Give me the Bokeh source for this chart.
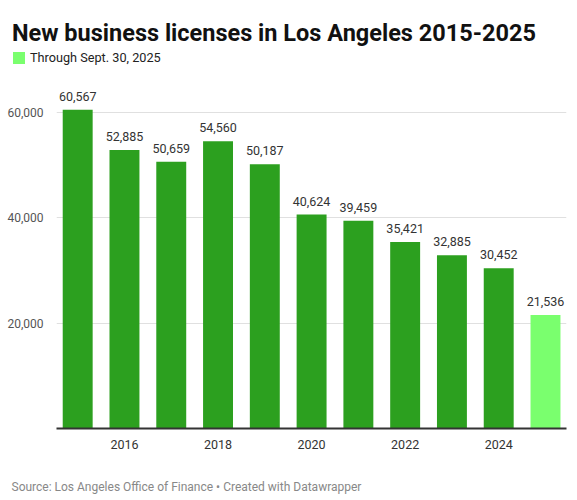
from bokeh.plotting import figure
from bokeh.layouts import column
from bokeh.models import (ColumnDataSource, Range1d, FixedTicker, LabelSet, Label,
                          Legend, LegendItem, NumeralTickFormatter)
from bokeh.core.properties import value
from bokeh.embed import file_html
from bokeh.resources import INLINE

# ---- data ----
years = [2015, 2016, 2017, 2018, 2019, 2020, 2021, 2022, 2023, 2024, 2025]
licenses = [60567, 52885, 50659, 54560, 50187, 40624, 39459, 35421, 32885, 30452, 21536]
partial_years = [2025]
x_ticks = [2016, 2018, 2020, 2022, 2024]
y_ticks = [20000, 40000, 60000]
title_text = "New business licenses in Los Angeles 2015-2025"
legend_text = "Through Sept. 30, 2025"
source_text = "Source: Los Angeles Office of Finance \u2022 Created with Datawrapper"

DARK = "#2ca01f"
LIGHT = "#7aff6e"
FONT = "Roboto"
W = 577


def bare(fig):
    fig.outline_line_color = None
    fig.background_fill_color = "white"
    fig.border_fill_color = "white"
    fig.xgrid.visible = False
    fig.ygrid.visible = False
    fig.frame_align = False
    return fig


full = [(y, v) for y, v in zip(years, licenses) if y not in partial_years]
part = [(y, v) for y, v in zip(years, licenses) if y in partial_years]
src_full = ColumnDataSource(dict(x=[a for a, _ in full], top=[b for _, b in full]))
src_part = ColumnDataSource(dict(x=[a for a, _ in part], top=[b for _, b in part]))
src_lab = ColumnDataSource(dict(x=years, y=licenses, t=[f"{v:,}" for v in licenses]))

# ---- header: title + legend ----
head = bare(figure(width=W, height=80, output_backend="svg", toolbar_location=None,
                   x_range=Range1d(0, W), y_range=Range1d(80, 0),
                   x_axis_location=None, y_axis_location=None,
                   min_border_left=0, min_border_right=0, min_border_top=0, min_border_bottom=0))
head.add_layout(Label(x=11.5, y=32.3, text=title_text, text_font=FONT,
                      text_font_size="23.5px", text_font_style="bold",
                      text_color="#111111", text_baseline="alphabetic"))
# legend swatch tied to the partial-year bar (its data lies outside this header's view)
r_leg = head.vbar(x="x", top="top", width=0.64, source=src_part, fill_color=LIGHT, line_color=None)
legend = Legend(items=[LegendItem(label=legend_text, renderers=[r_leg])],
                location=(11, 15), orientation="horizontal", padding=0, margin=0,
                border_line_color=None, background_fill_alpha=0,
                glyph_width=15, glyph_height=15, label_height=15, label_standoff=4,
                label_text_font=FONT, label_text_font_size="12.7px",
                label_text_color="#222222")
head.add_layout(legend)

# ---- main chart ----
p = bare(figure(width=W, height=390, output_backend="svg", toolbar_location=None,
                x_range=Range1d(2014.547, 2025.449), y_range=Range1d(0, 66100),
                min_border_left=56, min_border_right=11, min_border_top=0, min_border_bottom=42))

p.vbar(x="x", top="top", width=0.64, source=src_full, fill_color=DARK, line_color=None)
p.vbar(x="x", top="top", width=0.64, source=src_part, fill_color=LIGHT, line_color=None)

p.add_layout(LabelSet(x="x", y="y", text="t", source=src_lab, y_offset=9,
                      text_align="center", text_baseline="alphabetic",
                      text_font=value(FONT), text_font_size=value("12.5px"),
                      text_color=value("#333333")))

p.xaxis.ticker = FixedTicker(ticks=x_ticks)
p.xaxis.axis_line_color = "#333333"
p.xaxis.axis_line_width = 2
p.xaxis.major_tick_line_color = None
p.xaxis.minor_tick_line_color = None
p.xaxis.major_label_standoff = 5
p.xaxis.major_label_text_font = FONT
p.xaxis.major_label_text_font_size = "12.5px"
p.xaxis.major_label_text_color = "#333333"

p.yaxis.ticker = FixedTicker(ticks=y_ticks)
p.yaxis.formatter = NumeralTickFormatter(format="0,0")
p.yaxis.axis_line_color = None
p.yaxis.major_tick_line_color = None
p.yaxis.minor_tick_line_color = None
p.yaxis.major_label_standoff = 7
p.yaxis.major_label_text_font = FONT
p.yaxis.major_label_text_font_size = "12px"
p.yaxis.major_label_text_color = "#555555"

p.ygrid.visible = True
p.ygrid.ticker = FixedTicker(ticks=y_ticks)
p.ygrid.grid_line_color = "#e0e0e0"
p.ygrid.grid_line_width = 1

# ---- footer: source ----
foot = bare(figure(width=W, height=30, output_backend="svg", toolbar_location=None,
                   x_range=Range1d(0, W), y_range=Range1d(30, 0),
                   x_axis_location=None, y_axis_location=None,
                   min_border_left=0, min_border_right=0, min_border_top=0, min_border_bottom=0))
foot.add_layout(Label(x=11, y=16.7, text=source_text, text_font=FONT,
                      text_font_size="12px", text_color="#888888",
                      text_baseline="alphabetic"))

layout = column(head, p, foot, spacing=0)
open("out.html", "w").write(file_html(layout, INLINE))
